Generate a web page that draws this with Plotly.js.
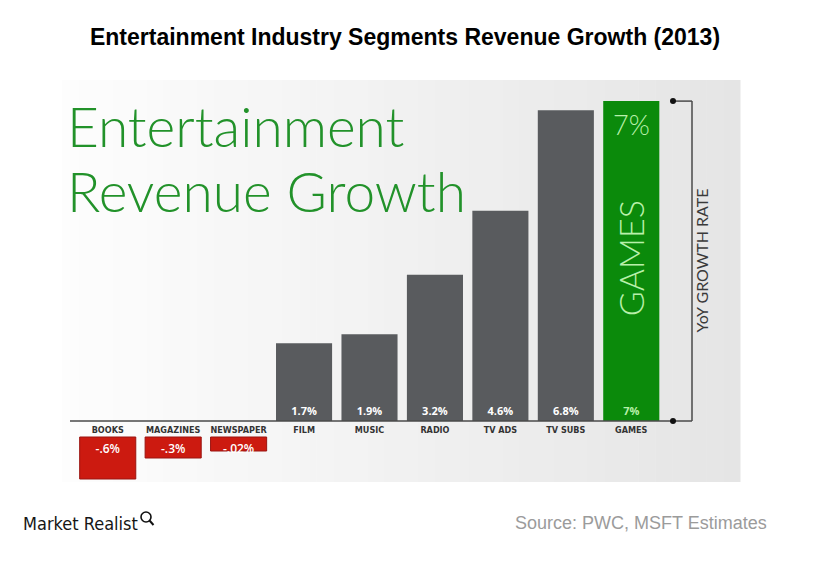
<!DOCTYPE html>
<html>
<head>
<meta charset="utf-8">
<script src="https://cdn.plot.ly/plotly-3.0.1.min.js"></script>
<style>html,body{margin:0;padding:0;background:#fff;}#chart{width:831px;height:563px;}</style>
</head>
<body>
<div id="chart"></div>
<script>
// ---- data ----
const categories = ["BOOKS","MAGAZINES","NEWSPAPER","FILM","MUSIC","RADIO","TV ADS","TV SUBS","GAMES"];
const growthCategories = ["FILM","MUSIC","RADIO","TV ADS","TV SUBS","GAMES"];
const growthValues = [1.7, 1.9, 3.2, 4.6, 6.8, 7.0];
const growthLabels = ["1.7%","1.9%","3.2%","4.6%","6.8%","7%"];
const declineCategories = ["BOOKS","MAGAZINES","NEWSPAPER"];
const declineValues = [-0.6, -0.3, -0.02];
const declineLabels = ["-.6%","-.3%","-.02%"];

// ---- geometry helpers (pixel -> paper) ----
const W = 831, H = 563, M = {l:75, r:167, t:78, b:74};
const PW = W - M.l - M.r, PH = H - M.t - M.b;
const px = x => (x - M.l) / PW;
const py = y => (H - M.b - y) / PH;

const grey = '#595b5e', green = '#0b8a0b', red = '#cc1a10';
const lightGreen = '#b8f0aa';
const condensed = 'DejaVu Sans Condensed, Open Sans, sans-serif';

// background panel with horizontal gradient
const shapes = [];
const n = 40, x0 = 62, x1 = 740;
for (let i = 0; i < n; i++) {
  const t = i / (n - 1);
  const c = Math.round(253 - t * 24);
  shapes.push({type:'rect', xref:'paper', yref:'paper', layer:'below',
    x0: px(x0 + (x1 - x0) * i / n), x1: px(x0 + (x1 - x0) * (i + 1) / n + 0.5),
    y0: py(482), y1: py(80), line:{width:0}, fillcolor:`rgb(${c},${c},${c})`});
}
// baseline
shapes.push({type:'line', xref:'paper', yref:'y', x0:px(70), x1:px(692), y0:0, y1:0,
  line:{color:'#4a4a4a', width:1.5}});
// bracket
shapes.push({type:'line', xref:'paper', yref:'y', x0:px(692), x1:px(692), y0:0, y1:growthValues[5],
  line:{color:'#4a4a4a', width:1.5}});
shapes.push({type:'line', xref:'paper', yref:'y', x0:px(673), x1:px(692), y0:growthValues[5], y1:growthValues[5],
  line:{color:'#4a4a4a', width:1.5}});
[0, growthValues[5]].forEach(v => shapes.push({type:'circle', xref:'paper', yref:'y',
  xsizemode:'pixel', ysizemode:'pixel', xanchor:px(673), yanchor:v,
  x0:-3, x1:3, y0:-3, y1:3, fillcolor:'#111', line:{width:0}}));
// logo magnifier
shapes.push({type:'circle', xref:'paper', yref:'paper', x0:px(141), x1:px(151), y0:py(522), y1:py(512),
  line:{color:'#111', width:1.6}});
shapes.push({type:'line', xref:'paper', yref:'paper', x0:px(149.5), x1:px(153.5), y0:py(520.5), y1:py(525),
  line:{color:'#111', width:2}});

const traces = [
  {type:'bar', x:growthCategories, y:growthValues, text:growthLabels,
   marker:{color:growthCategories.map(c => c === 'GAMES' ? green : grey), line:{width:0}},
   width:0.857, textposition:'inside', insidetextanchor:'start', constraintext:'none',
   textfont:{family:'Open Sans', size:11, weight:700,
     color:growthCategories.map(c => c === 'GAMES' ? lightGreen : '#ffffff')},
   hoverinfo:'skip', cliponaxis:false},
  {type:'bar', x:declineCategories, y:declineValues.map(v => Math.min(v, -0.2)), yaxis:'y2',
   text:declineLabels, marker:{color:red, line:{color:'#9a1410', width:1}},
   width:0.857, textposition:'inside', insidetextanchor:'start', constraintext:'none',
   textfont:{family:'Open Sans', size:12, weight:600, color:'#ffffff'},
   hoverinfo:'skip', cliponaxis:false}
];

const annotations = [
  {xref:'paper', yref:'paper', x:px(65), y:py(126), xanchor:'left', yanchor:'middle', showarrow:false,
   text:'Entertainment', font:{family:'Lato', weight:300, size:55, color:'#22922a'}},
  {xref:'paper', yref:'paper', x:px(65), y:py(191), xanchor:'left', yanchor:'middle', showarrow:false,
   text:'Revenue Growth', font:{family:'Lato', weight:300, size:55, color:'#22922a'}},
  {xref:'x', yref:'y', x:'GAMES', y:growthValues[5], yanchor:'top', yshift:-5, showarrow:false,
   text:growthLabels[5], font:{family:'Lato', weight:300, size:27, color:lightGreen}},
  {xref:'x', yref:'y', x:'GAMES', y:3.57, textangle:-90, showarrow:false,
   text:'GAMES', font:{family:'Lato', weight:300, size:34, color:lightGreen}},
  {xref:'paper', yref:'y', x:px(713), y:3.5, textangle:-90, showarrow:false,
   text:'YoY GROWTH RATE', font:{family:'Lato', weight:400, size:16, color:'#3a3a3a'}},
  {xref:'paper', yref:'paper', x:px(21), y:py(523), xanchor:'left', yanchor:'middle', showarrow:false,
   text:'Market Realist', font:{family:condensed, size:18, color:'#161616'}},
  {xref:'paper', yref:'paper', x:px(769), y:py(523), xanchor:'right', yanchor:'middle', showarrow:false,
   text:'Source: PWC, MSFT Estimates', font:{family:'Liberation Sans', size:18, color:'#9b9b9b'}}
];

const layout = {
  width:W, height:H, margin:M, paper_bgcolor:'#ffffff', plot_bgcolor:'rgba(0,0,0,0)',
  showlegend:false, bargap:0.143,
  title:{text:'Entertainment Industry Segments Revenue Growth (2013)', x:0.4874, xref:'container',
    y:1 - 37/H, yref:'container', xanchor:'center', yanchor:'middle',
    font:{family:'Liberation Sans', weight:700, size:23, color:'#000000'}},
  xaxis:{type:'category', categoryorder:'array', categoryarray:categories, range:[-0.5, 8.5],
    anchor:'free', position:py(423), showline:false, showgrid:false, zeroline:false, ticks:'',
    tickfont:{family:condensed, size:9, weight:700, color:'#333333'}, fixedrange:true},
  yaxis:{range:[-(PH - (421 - M.t)) / 45.7, (421 - M.t) / 45.7], visible:false, fixedrange:true},
  yaxis2:{overlaying:'y', range:[-(PH - (437 - M.t)) / 70, (437 - M.t) / 70], visible:false, fixedrange:true},
  shapes:shapes, annotations:annotations
};

Plotly.newPlot('chart', traces, layout, {displayModeBar:false, staticPlot:true});
</script>
</body>
</html>
